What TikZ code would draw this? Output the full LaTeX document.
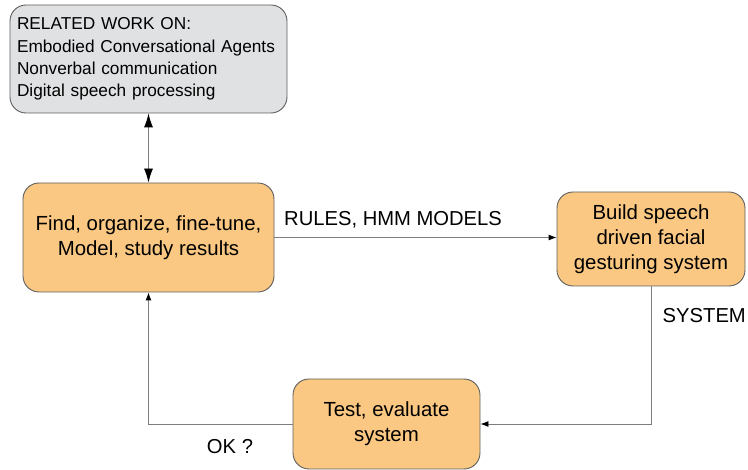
\documentclass[tikz,border=0pt]{standalone}
\usepackage{fontspec}
\setmainfont{Liberation Sans}
\usetikzlibrary{arrows.meta}
\definecolor{boxorange}{RGB}{250,200,130}
\definecolor{boxgray}{RGB}{223,225,226}
\definecolor{boxline}{RGB}{95,95,95}
\definecolor{conn}{RGB}{125,125,125}
\tikzset{
  box/.style={draw=boxline, line width=0.9pt, rounded corners=16pt, align=center, inner sep=0pt},
  orangebox/.style={box, fill=boxorange, font=\fontsize{20.4}{25}\selectfont},
  graybox/.style={box, fill=boxgray, font=\fontsize{17.25}{22.4}\selectfont},
  conline/.style={draw=conn, line width=0.9pt},
  smallhead/.style={-{Latex[length=8pt,width=6pt,black]}},
  bighead/.style={{Latex[length=14pt,width=9pt,black]}-{Latex[length=14pt,width=9pt,black]}},
  lbl/.style={font=\fontsize{20.2}{24}\selectfont, inner sep=0pt}
}
\begin{document}
\begin{tikzpicture}[x=1pt,y=-1pt]
\useasboundingbox (0,0) rectangle (748,470);
\node[graybox, minimum width=277pt, minimum height=108pt, text width=263pt, align=left] (rel) at (148.5,59)
  {RELATED WORK ON:\\Embodied Conversational Agents\\Nonverbal communication\\Digital speech processing};
\node[orangebox, minimum width=251pt, minimum height=109pt] (find) at (148.5,237.5)
  {Find, organize, fine-tune,\\Model, study results};
\node[orangebox, minimum width=188pt, minimum height=94pt] (build) at (651,239)
  {Build speech\\driven facial\\gesturing system};
\node[orangebox, minimum width=187pt, minimum height=90pt] (test) at (386.5,424)
  {Test, evaluate\\system};
\draw[conline, bighead] (rel) -- (find);
\draw[conline, smallhead] (find.east) -- (build.west |- find.east);
\draw[conline, smallhead] (build.south) |- (test.east);
\draw[conline, smallhead] (test.west) -| (find.south);
\node[lbl, anchor=west] (rules) at (284,220) {RULES, HMM MODELS};
\node[lbl, anchor=east] (sys) at (746,316) {SYSTEM};
\node[lbl] (ok) at (230,447) {OK ?};
\end{tikzpicture}
\end{document}
